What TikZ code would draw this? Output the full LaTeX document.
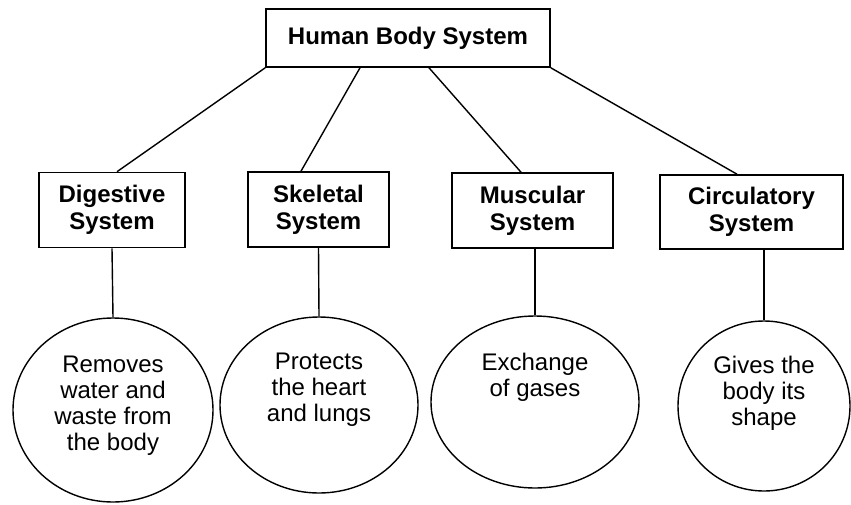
\documentclass[tikz,border=0pt]{standalone}
\usepackage{fontspec}
\setmainfont{Liberation Sans}
\usetikzlibrary{shapes.geometric}

\begin{document}
\begin{tikzpicture}[x=0.5pt,y=-0.5pt,
	sysbox/.style={draw,line width=0.8pt,align=center,inner sep=0pt,font=\bfseries\fontsize{12}{13.5}\selectfont},
	oval/.style={draw,ellipse,line width=0.7pt,inner sep=0pt},
	desc/.style={align=center,font=\fontsize{12}{13}\selectfont},
	link/.style={line width=0.7pt}]
	\useasboundingbox (0,0) rectangle (851,504);
	\node[sysbox,minimum width=142pt,minimum height=29pt] (hbs) at (408,38) {Human Body System};
	\node[sysbox,minimum width=73pt,minimum height=37.5pt] (dig) at (112,210) {Digestive\\System};
	\node[sysbox,minimum width=70.5pt,minimum height=37.5pt] (ske) at (318.5,209.5) {Skeletal\\System};
	\node[sysbox,minimum width=80.5pt,minimum height=37.5pt] (mus) at (532.5,210.5) {Muscular\\System};
	\node[sysbox,minimum width=91.5pt,minimum height=37pt] (cir) at (751.5,212) {Circulatory\\System};
	\node[oval,minimum width=100pt,minimum height=92pt] (e1) at (113,410) {};
	\node[oval,minimum width=99pt,minimum height=88pt] (e2) at (319,405) {};
	\node[oval,minimum width=104pt,minimum height=86pt] (e3) at (535,402) {};
	\node[oval,minimum width=86pt,minimum height=85pt] (e4) at (764,406) {};
	\node[desc] (t1) at (113,406) {Removes\\water and\\waste from\\the body};
	\node[desc] (t2) at (319,390) {Protects\\the heart\\and lungs};
	\node[desc] (t3) at (535,377) {Exchange\\of gases};
	\node[desc] (t4) at (764,393) {Gives the\\body its\\shape};
	\draw[link] (hbs.south west) -- ([xshift=2.5pt]dig.north);
	\draw[link] ([xshift=-24pt]hbs.south) -- ([xshift=-8.75pt]ske.north);
	\draw[link] ([xshift=10.5pt]hbs.south) -- ([xshift=-5.75pt]mus.north);
	\draw[link] (hbs.south east) -- ([xshift=-7.25pt]cir.north);
	\draw[link] (dig.south) -- (e1.north);
	\draw[link] (ske.south) -- (e2.north);
	\draw[link] (e3.north |- mus.south) -- (e3.north);
	\draw[link] (e4.north |- cir.south) -- (e4.north);
\end{tikzpicture}
\end{document}
